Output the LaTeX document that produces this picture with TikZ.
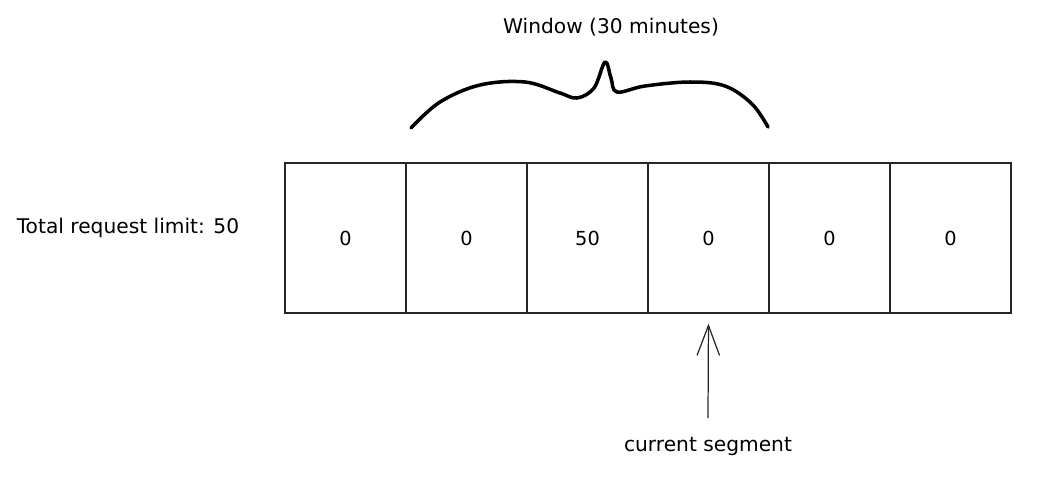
\documentclass[tikz,border=0pt]{standalone}
\usepackage{fontspec}
\setmainfont{DejaVu Sans}
\usepackage{tikz}
\usetikzlibrary{arrows.meta}
\usetikzlibrary{calc}
\tikzstyle{segment} = [draw=black!85, line width=0.8pt, minimum width=2.42cm, minimum height=3cm, inner sep=0pt, font=\fontsize{11}{13}\selectfont]
\tikzstyle{label} = [font=\fontsize{11.5}{13}\selectfont]

\begin{document}
\begin{tikzpicture}[x=0.02cm, y=-0.02cm]
	\useasboundingbox (0, 0) rectangle (1047, 487) ;
	
	\foreach \n/\val in {1/0, 2/0, 3/50, 4/0, 5/0, 6/0}
	{
		\node[segment] (seg\n) at ({285 + 60.5 + 121*(\n-1)}, 238) {\val} ;
	}
	
	\node[label] (limit) at (128, 228) {Total request limit: 50} ;
	\node[label] (window) at (611, 27) {Window (30 minutes)} ;
	\node[label] (current) at (708, 446) {current segment} ;
	
	
	\draw[line width=2pt, line cap=round, line join=round] plot[smooth, tension=0.6] coordinates {(411, 128) (440, 102) (480, 85) (525, 82) (560, 93) (577, 98) (594, 88) (605, 62) (611, 78) (617, 92) (645, 86) (690, 82) (725, 86) (752, 104) (768, 127)} ;
	
	
	\coordinate (tail) at (708, 418) ;
	\draw[black!85, line width=0.7pt, -{Straight Barb[length=0.6cm, width=0.45cm]}, shorten >=0.2cm] (tail) -- (seg4.south) ;
\end{tikzpicture}
\end{document}
